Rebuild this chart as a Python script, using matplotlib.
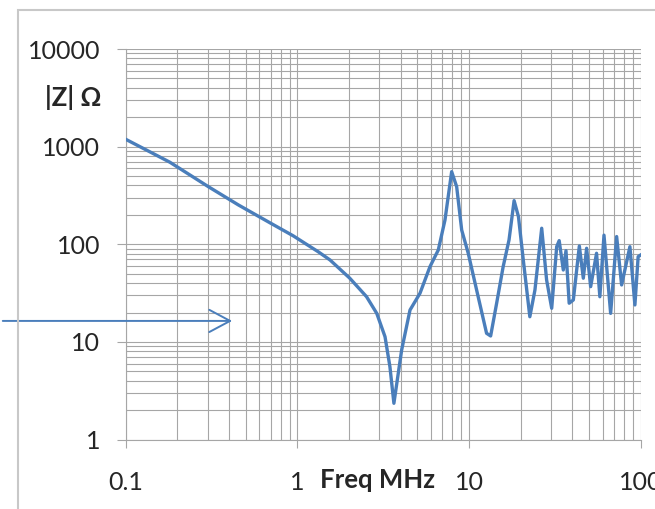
import matplotlib
matplotlib.use("Agg")
import matplotlib.pyplot as plt
from matplotlib.ticker import FixedLocator, FuncFormatter, NullFormatter, LogLocator
from matplotlib.patches import Rectangle

plt.rcParams['font.family'] = ['Lato', 'Open Sans', 'DejaVu Sans']

# impedance sweep, |Z| in ohm against frequency in MHz
freq_mhz = [0.1, 0.181, 0.303, 0.453, 0.692, 0.946, 1.32, 1.55, 2.02, 2.53,
            2.90, 3.24, 3.46, 3.65, 4.05, 4.53, 5.18, 5.92, 6.62, 7.24,
            7.92, 8.47, 9.06, 9.89, 11.07, 12.65, 13.36, 14.48, 15.8, 17.1,
            18.3, 19.4, 20.7, 22.6, 24.2, 26.5, 28.3, 30.3, 32.4, 33.5,
            35.4, 36.7, 38.3, 40.5, 43.9, 46.3, 48.4, 51.1, 55.3, 57.8,
            61.1, 66.8, 72.4, 77.4, 86.5, 92.5, 96.6, 100]
z_ohm = [1190, 692, 389, 253, 166, 122, 84, 69, 44.9, 29,
         19.6, 11.3, 5.57, 2.35, 8.26, 21.2, 31.5, 58.9, 87.4, 177,
         554, 389, 140, 80.9, 34.0, 12.25, 11.5, 24.9, 58.9, 111,
         280, 192, 69, 18.1, 34.0, 146, 43.1, 22.1, 94.5, 109,
         54.5, 86, 24.9, 26.9, 96, 44.9, 91, 36.8, 80.9, 29.0,
         124, 19.6, 120, 38.3, 94.5, 23.9, 74.6, 77.7]

x_ticks = [0.1, 1, 10, 100]
y_ticks = [1, 10, 100, 1000, 10000]

line_blue = '#4a7ebb'
grid_grey = '#a6a6a6'
text_col = '#262626'

fig = plt.figure(figsize=(6.55, 5.09), dpi=100)
ax = fig.add_axes([0.1919, 0.1365, 0.7863, 0.7672])

ax.plot(freq_mhz, z_ohm, color=line_blue, lw=2.4, solid_joinstyle='round', zorder=3)

ax.set_xscale('log')
ax.set_yscale('log')
ax.set_xlim(0.1, 100)
ax.set_ylim(1, 10000)

ax.xaxis.set_major_locator(FixedLocator(x_ticks))
ax.yaxis.set_major_locator(FixedLocator(y_ticks))
ax.xaxis.set_minor_locator(LogLocator(base=10, subs=range(2, 10), numticks=20))
ax.yaxis.set_minor_locator(LogLocator(base=10, subs=range(2, 10), numticks=20))
fmt = FuncFormatter(lambda v, p: '%g' % v)
ax.xaxis.set_major_formatter(fmt)
ax.yaxis.set_major_formatter(fmt)
ax.xaxis.set_minor_formatter(NullFormatter())
ax.yaxis.set_minor_formatter(NullFormatter())

ax.grid(True, which='both', color=grid_grey, lw=0.8)
ax.tick_params(which='minor', length=0)
ax.tick_params(axis='x', which='major', length=6, width=0.8, color=grid_grey,
               pad=17, labelsize=18, labelcolor=text_col)
ax.tick_params(axis='y', which='major', length=6.5, width=0.8, color=grid_grey,
               pad=12, labelsize=18, labelcolor=text_col)

for side in ['top', 'right']:
    ax.spines[side].set_visible(False)
for side in ['left', 'bottom']:
    ax.spines[side].set_color(grid_grey)
    ax.spines[side].set_linewidth(0.8)

# axis titles placed inside the chart area like the spreadsheet original
fig.text(73 / 655, 1 - 97 / 509, '|Z| Ω', ha='center', va='center',
         fontsize=18.5, fontweight='bold', color=text_col)
fig.text(377 / 655, 1 - 480 / 509, 'Freq MHz', ha='center', va='center',
         fontsize=18.5, fontweight='bold', color=text_col)

# pointer arrow coming in from the left margin
ax.annotate('', xy=(0.433, 16.4), xytext=(0, 16.4),
            xycoords='data', textcoords=('figure fraction', 'data'),
            arrowprops=dict(arrowstyle='->,head_length=1.5,head_width=0.8',
                            color=line_blue, lw=1.4),
            annotation_clip=False)

# light frame around the chart
fig.patches.append(Rectangle((18 / 655, -0.1), 1.2, 1 - 10 / 509 + 0.1,
                             transform=fig.transFigure, fill=False,
                             edgecolor='#c8c8c8', lw=1.5))

fig.savefig('out.png', dpi=100)
